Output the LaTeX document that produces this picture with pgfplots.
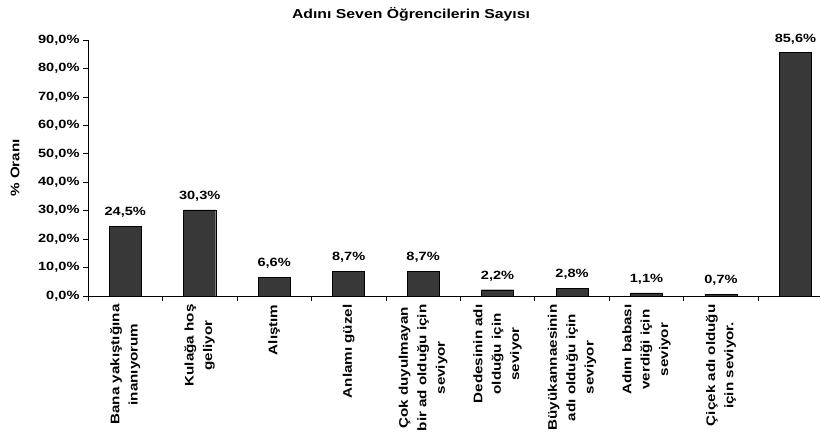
\documentclass[border=0pt]{standalone}
\usepackage{fontspec}
\setmainfont{Liberation Sans}[FakeStretch=1.22]
\usepackage{pgfplots}
\pgfplotsset{compat=1.18}

\begin{document}
\begin{tikzpicture}
\begin{axis}[
    scale only axis,
    width=732bp, height=256bp,
    ybar, bar width=32bp,
    xmin=-0.5, xmax=9.33,
    ymin=0, ymax=90,
    axis x line*=bottom, axis y line*=left,
    axis line style={black, line width=0.7pt},
    tick align=outside,
    tick style={black, line width=0.7pt},
    major tick length=5bp, minor tick length=5bp,
    xtick={0,...,9},
    major x tick style={draw=none},
    minor xtick={-0.5,0.5,...,8.5},
    xticklabels={
        Bana yakıştığına\\inanıyorum,
        Kulağa hoş\\geliyor,
        Alıştım,
        Anlamı güzel,
        Çok duyulmayan\\bir ad olduğu için\\seviyor,
        Dedesinin adı\\olduğu için\\seviyor,
        Büyükannaesinin\\adı olduğu için\\seviyor,
        Adını babası\\verdiği için\\seviyor,
        Çiçek adı olduğu\\için seviyor.,
        {}},
    xticklabel style={rotate=90, anchor=east, align=center,
        font=\bfseries\fontsize{12.5}{18.5}\selectfont},
    ytick={0,10,...,90},
    /pgf/number format/assume math mode=true,
    yticklabel={\pgfmathprintnumber[fixed,fixed zerofill,precision=1,use comma]{\tick}\%},
    yticklabel style={font=\bfseries\fontsize{12}{14}\selectfont},
    nodes near coords={\pgfmathprintnumber[fixed,fixed zerofill,precision=1,use comma]{\pgfplotspointmeta}\%},
    every node near coord/.append style={font=\bfseries\fontsize{12}{14}\selectfont, yshift=5bp},
]
\addplot[fill=black!78, draw=black] coordinates {
    (0,24.5) (1,30.3) (2,6.6) (3,8.7) (4,8.7)
    (5,2.2) (6,2.8) (7,1.1) (8,0.7) (9,85.6)
};
\coordinate (o) at (rel axis cs:0,0);
\end{axis}
\node[font=\bfseries\fontsize{13}{15}\selectfont] at ([shift={(323bp,282bp)}]o) {Adını Seven Öğrencilerin Sayısı};
\node[rotate=90, font=\bfseries\fontsize{12.5}{15}\selectfont] at ([shift={(-73bp,128bp)}]o) {\% Oranı};
\pgfresetboundingbox
\path[use as bounding box] ([shift={(-88bp,-146bp)}]o) rectangle ([shift={(733bp,296bp)}]o);
\end{tikzpicture}
\end{document}
